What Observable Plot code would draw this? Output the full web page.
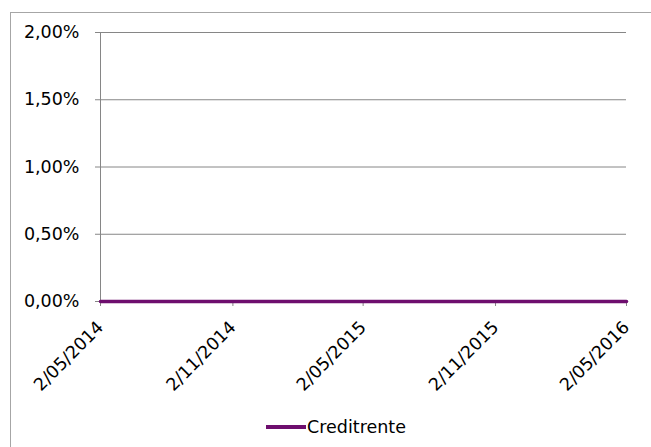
<!DOCTYPE html>
<html>
<head>
<meta charset="utf-8">
<script src="https://cdn.jsdelivr.net/npm/d3@7"></script>
<script src="https://cdn.jsdelivr.net/npm/@observablehq/plot@0.6"></script>
<style>
  html, body { margin: 0; padding: 0; background: #fff; width: 651px; height: 447px; overflow: hidden; }
  #frame { position: absolute; left: 10px; top: 12px; width: 700px; height: 500px; border: 1.5px solid #a6a6a6; box-sizing: border-box; }
  #chart { position: absolute; left: 0; top: 0; }
  #legend { position: absolute; left: 266px; top: 415px; height: 24px; display: flex; align-items: center; font-family: "DejaVu Sans", Verdana, sans-serif; font-size: 17.5px; color: #000; }
  #legend .sw { width: 40px; height: 4px; background: #6e0e6e; margin-right: 1px; }
</style>
</head>
<body>
<div id="frame"></div>
<div id="chart"></div>
<div id="legend"><span class="sw"></span><span id="legend-label"></span></div>
<script>
const seriesName = "Creditrente";
const dates = ["2014-05-02", "2014-11-02", "2015-05-02", "2015-11-02", "2016-05-02"];
const values = [0, 0, 0, 0, 0];
const xTicks = ["2014-05-02", "2014-11-02", "2015-05-02", "2015-11-02", "2016-05-02"];
const yTicks = [0, 0.005, 0.01, 0.015, 0.02];

const data = dates.map((d, i) => ({date: new Date(d + "T00:00:00Z"), value: values[i]}));
const fmtDate = d => `${d.getUTCDate()}/${String(d.getUTCMonth() + 1).padStart(2, "0")}/${d.getUTCFullYear()}`;
const fmtPct = v => (v * 100).toFixed(2).replace(".", ",") + "%";

const plot = Plot.plot({
  width: 651,
  height: 410,
  marginLeft: 100,
  marginRight: 25,
  marginTop: 32,
  marginBottom: 109,
  style: {fontFamily: "'DejaVu Sans', Verdana, sans-serif", fontSize: "17.5px", color: "#000", background: "transparent", overflow: "visible"},
  x: {type: "utc", domain: [new Date(xTicks[0] + "T00:00:00Z"), new Date(xTicks[xTicks.length - 1] + "T00:00:00Z")]},
  y: {domain: [0, 0.02]},
  marks: [
    Plot.gridY(yTicks, {stroke: "#868686", strokeOpacity: 1, strokeWidth: 1}),
    Plot.ruleX([new Date(xTicks[0] + "T00:00:00Z")], {stroke: "#868686", strokeWidth: 1}),
    Plot.axisY(yTicks, {tickFormat: fmtPct, tickSize: 5, tickPadding: 16, stroke: "#868686", fill: "#000", label: null}),
    Plot.axisX(xTicks.map(t => new Date(t + "T00:00:00Z")), {tickFormat: fmtDate, tickSize: 5, tickRotate: -45, tickPadding: 18, stroke: "#868686", fill: "#000", label: null}),
    Plot.line(data, {x: "date", y: "value", stroke: "#6e0e6e", strokeWidth: 3.5})
  ]
});
document.getElementById("chart").appendChild(plot);
document.getElementById("legend-label").textContent = seriesName;
</script>
</body>
</html>
